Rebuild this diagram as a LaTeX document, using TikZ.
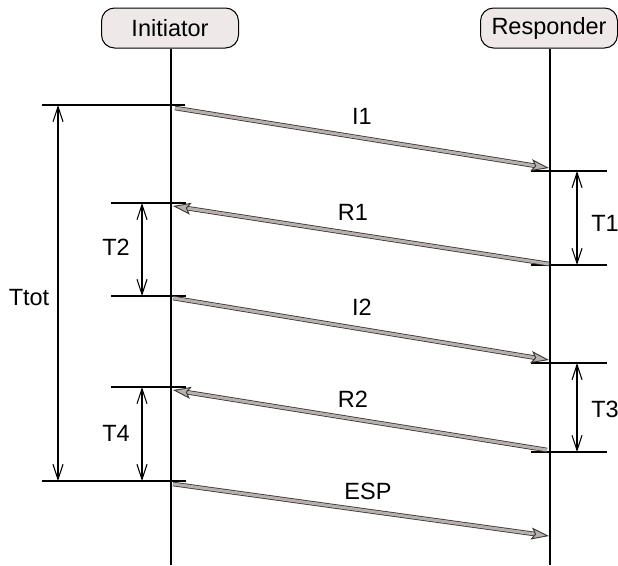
\documentclass[tikz,border=0pt]{standalone}
\usepackage{fontspec}
\setmainfont{Liberation Sans}
\usetikzlibrary{arrows.meta}
\definecolor{boxfill}{HTML}{EEE8E8}
\definecolor{msgfill}{HTML}{B8B0AD}
\definecolor{msgline}{HTML}{383434}

\begin{document}
\begin{tikzpicture}[x=1pt, y=-1pt, line width=1.2pt,
        party/.style = {draw, line width=1pt, rounded corners=13pt, fill=boxfill, minimum width=137pt, minimum height=40pt, font=\fontsize{23.5}{27}\selectfont},
        msg/.style = {draw=msgfill, line width=3pt, -{Stealth[length=18pt, width=12pt, inset=4pt, color=msgline, fill=msgfill, line width=0.9pt]},
            preaction={draw=msgline, line width=4.6pt, -, shorten >=14pt}},
        span/.style = {line width=1.1pt, {Straight Barb[length=15pt, width=10pt]}-{Straight Barb[length=15pt, width=10pt]}},
        lbl/.style = {font=\fontsize{23.5}{27}\selectfont}]
        \useasboundingbox (0,0) rectangle (618,565);

        \node[party] at (170, 28) (I) {Initiator};
        \node[party] at (549, 28) (R) {Responder};
        \coordinate (Ie) at (171, 565);
        \coordinate (Re) at (550, 565);
        \draw ([xshift=1pt]I.south) -- (Ie);
        \draw ([xshift=1pt]R.south) -- (Re);

        % ticks on the initiator side
        \coordinate (a0) at (42, 105);  \coordinate (b0) at (185, 105);
        \coordinate (a1) at (111, 203); \coordinate (b1) at (186, 203);
        \coordinate (a2) at (111, 296); \coordinate (b2) at (186, 296);
        \coordinate (a3) at (111, 387); \coordinate (b3) at (186, 387);
        \coordinate (a4) at (42, 481);  \coordinate (b4) at (186, 481);
        \draw (a0) -- (b0);
        \draw (a1) -- (b1);
        \draw (a2) -- (b2);
        \draw (a3) -- (b3);
        \draw (a4) -- (b4);

        % ticks on the responder side
        \coordinate (c1) at (531, 171); \coordinate (d1) at (607, 171);
        \coordinate (c2) at (531, 265); \coordinate (d2) at (607, 265);
        \coordinate (c3) at (531, 363); \coordinate (d3) at (607, 363);
        \coordinate (c4) at (531, 452); \coordinate (d4) at (607, 452);
        \draw (c1) -- (d1);
        \draw (c2) -- (d2);
        \draw (c3) -- (d3);
        \draw (c4) -- (d4);

        % messages
        \coordinate (i1s) at (175, 108); \coordinate (i1e) at (549, 168);
        \coordinate (r1s) at (549, 264); \coordinate (r1e) at (173, 206);
        \coordinate (i2s) at (173, 298); \coordinate (i2e) at (549, 360);
        \coordinate (r2s) at (547, 450); \coordinate (r2e) at (173, 390);
        \coordinate (es) at (173, 484);  \coordinate (ee) at (549, 536);
        \draw[msg] (i1s) -- (i1e);
        \draw[msg] (r1s) -- (r1e);
        \draw[msg] (i2s) -- (i2e);
        \draw[msg] (r2s) -- (r2e);
        \draw[msg] (es) -- (ee);
        \node[lbl] at (362, 116) (I1) {I1};
        \node[lbl] at (353, 212) (R1) {R1};
        \node[lbl] at (362, 307) (I2) {I2};
        \node[lbl] at (353, 399) (R2) {R2};
        \node[lbl] at (368, 491) (ESP) {ESP};

        % durations
        \coordinate (tt0) at (58, 105);  \coordinate (tt1) at (58, 481);
        \coordinate (t2a) at (142, 203); \coordinate (t2b) at (142, 296);
        \coordinate (t4a) at (142, 387); \coordinate (t4b) at (142, 481);
        \coordinate (t1a) at (577, 171); \coordinate (t1b) at (577, 265);
        \coordinate (t3a) at (577, 363); \coordinate (t3b) at (577, 452);
        \draw[span] (tt0) -- (tt1);
        \draw[span] (t2a) -- (t2b);
        \draw[span] (t4a) -- (t4b);
        \draw[span] (t1a) -- (t1b);
        \draw[span] (t3a) -- (t3b);
        \node[lbl] at (29, 298) (Ttot) {Ttot};
        \node[lbl] at (116, 247) (T2) {T2};
        \node[lbl] at (116, 433) (T4) {T4};
        \node[lbl] at (605, 223) (T1) {T1};
        \node[lbl] at (605, 409) (T3) {T3};
\end{tikzpicture}
\end{document}
